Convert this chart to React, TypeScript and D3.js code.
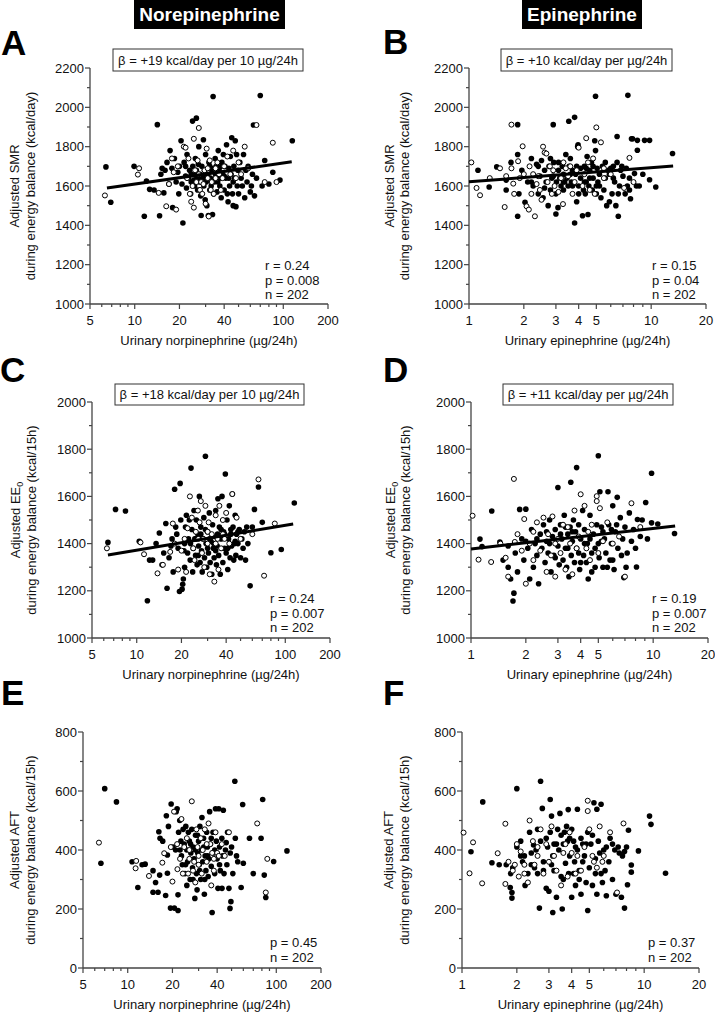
import React from 'react';
import * as d3 from 'd3';

// ---------- tick labels ----------
const neTickLabels = [5, 10, 20, 40, 100, 200];
const epiTickLabels = [1, 2, 3, 4, 5, 10, 20];
const smrTicks = [1000, 1200, 1400, 1600, 1800, 2000, 2200];
const eeTicks = [1000, 1200, 1400, 1600, 1800, 2000];
const aftTicks = [0, 200, 400, 600, 800];

// ---------- Panel A: norepinephrine vs SMR ----------
const aFilled: [number, number][] = [
  [6.4,1697],[6.9,1517],[9.9,1700],[11.6,1446],[12,1625],[12.6,1583],[13.5,1580],[14.2,1912],[14.7,1449],[15,1660],[15.3,1690],[15.7,1565],[16,1680],[16.5,1720],[17,1610],[17.3,1780],[17.8,1690],[18,1490],[18.5,1740],[19,1620],[19.5,1670],[19.8,1560],[20,1700],[20.5,1830],[20.8,1610],[21.1,1412],[21.5,1720],[22,1650],[22.3,1590],[22.5,1760],[23,1640],[23.4,1680],[23.8,1560],[24,1620],[24.5,1930],[24.6,1700],[25,1660],[25.3,1600],[25.6,1740],[26,1945],[26.2,1640],[26.5,1580],[26.8,1710],[27,1800],[27.2,1620],[27.5,1660],[27.8,1550],[28,1450],[28.3,1700],[28.6,1640],[29,1835],[29.2,1600],[29.5,1680],[29.8,1530],[30,1760],[30.3,1620],[30.6,1500],[31,1660],[31.3,1450],[31.6,1720],[32,1580],[32.3,1640],[32.7,1600],[33,1680],[33.4,1455],[33.7,2055],[34,1560],[34.4,1620],[34.8,1740],[35,1660],[35.4,1700],[35.8,1570],[36.2,1620],[36.5,1780],[37,1680],[37.4,1600],[37.8,1640],[38.2,1540],[38.6,1720],[39,1660],[39.5,1760],[40,1580],[40.5,1700],[41,1640],[41.5,1810],[42,1560],[42.5,1520],[43,1690],[43.5,1600],[44,1750],[44.5,1660],[45,1845],[45.5,1560],[46,1500],[46.5,1700],[47,1640],[47.5,1830],[48,1495],[48.5,1760],[49,1600],[49.5,1680],[50,1560],[51,1720],[52,1640],[53,1600],[54,1760],[55,1540],[56,1680],[57,1620],[58,1700],[60,1570],[61,1600],[62,1660],[63,1910],[64,1550],[66,1640],[70,2060],[72,1600],[75,1730],[80,1610],[85,1670],[95,1630],[115,1830],
  [22,1700],[24,1660],[26,1680],[28,1640],[30,1660],[32,1700],[34,1690],[36,1660],[38,1700],[40,1650],[43,1640],[46,1620],[29,1620],[25,1630]
];
const aOpen: [number, number][] = [
  [6.3,1552],[10.7,1690],[10.5,1658],[14.5,1565],[16.3,1497],[17,1610],[17.8,1740],[18.3,1670],[19,1480],[19.5,1700],[21.4,1800],[22,1795],[22.5,1640],[23,1740],[23.5,1560],[24,1520],[24.5,1600],[25,1490],[25,1840],[25.5,1680],[26,1620],[26.5,1730],[27,1895],[27.5,1580],[28,1620],[28.5,1560],[29,1610],[29.5,1680],[30,1510],[30.5,1790],[31,1640],[31.5,1445],[32,1730],[32.5,1580],[33,1620],[34,1560],[35,1690],[36,1720],[37,1660],[38,1580],[39,1640],[40,1700],[42,1750],[44,1660],[46,1780],[48,1640],[50,1720],[52,1660],[55,1800],[58,1690],[66,1910],[75,1620],[85,1820],[90,1620],
  [27,1660],[31,1690],[35,1640]
];
const aLine: [number, number][] = [[6.5,1590],[114,1723]];

// ---------- Panel B: epinephrine vs SMR ----------
const bFilled: [number, number][] = [
  [1.12,1680],[1.29,1595],[1.42,1697],[1.6,1630],[1.7,1720],[1.85,1912],[1.85,1760],[1.88,1560],[1.85,1446],[1.95,1680],[2.03,1517],[2.1,1620],[2.2,1740],[2.25,1600],[2.35,1710],[2.4,1560],[2.45,1650],[2.5,1730],[2.55,1540],[2.6,1680],[2.65,1620],[2.72,1500],[2.75,1700],[2.8,1580],[2.85,1640],[2.9,1912],[2.92,1720],[3.0,1458],[3.02,1620],[3.08,1490],[3.1,1680],[3.15,1640],[3.2,1600],[3.25,1700],[3.3,1660],[3.35,1620],[3.4,1760],[3.45,1640],[3.5,1600],[3.53,1929],[3.55,1700],[3.6,1740],[3.65,1620],[3.7,1680],[3.75,1610],[3.8,1949],[3.8,1412],[3.85,1660],[3.9,1520],[3.95,1800],[3.97,1810],[4.0,1600],[4.1,1640],[4.2,1449],[4.25,1580],[4.3,1700],[4.35,1560],[4.4,1620],[4.45,1750],[4.5,1455],[4.55,1600],[4.6,1680],[4.7,1720],[4.75,1580],[4.8,1640],[4.9,1830],[4.95,2056],[4.95,1780],[5.0,1560],[5.05,1690],[5.1,1620],[5.2,1660],[5.3,1540],[5.4,1700],[5.5,1580],[5.6,1640],[5.7,1500],[5.8,1680],[5.9,1520],[6.0,1690],[6.1,1560],[6.2,1700],[6.3,1620],[6.4,1500],[6.5,1852],[6.5,1720],[6.6,1446],[6.7,1600],[6.8,1680],[7.0,1650],[7.2,1560],[7.4,1600],[7.45,2061],[7.6,1580],[7.7,1535],[7.8,1840],[7.9,1840],[8.1,1663],[8.3,1600],[8.4,1832],[8.4,1782],[9.2,1832],[9.8,1832],[9.8,1632],[10.6,1595],[13.1,1765],
  [2.4,1700],[2.6,1590],[2.9,1650],[3.1,1720],[3.3,1580],[3.6,1660],[3.9,1700],[4.1,1690],[4.3,1620],[4.6,1640],[4.8,1700],[5.2,1600],[5.6,1720],[6.2,1640],[6.9,1700],[7.3,1690],[7.6,1640],[2.2,1620],[1.6,1580],[3.0,1560],[4.0,1560],[5.0,1600],[5.9,1660],[6.6,1560],[8.6,1600],[9.0,1660],[4.4,1690],[3.7,1600],[2.8,1740],[3.3,1620]
];
const bOpen: [number, number][] = [
  [1.03,1720],[1.1,1590],[1.15,1553],[1.48,1690],[1.57,1493],[1.71,1912],[1.71,1690],[1.75,1612],[1.77,1560],[1.86,1726],[1.97,1802],[2.0,1660],[2.07,1497],[2.13,1480],[2.15,1700],[2.25,1660],[2.3,1446],[2.35,1610],[2.45,1580],[2.5,1530],[2.55,1800],[2.6,1770],[2.66,1765],[2.7,1620],[2.78,1700],[2.85,1560],[2.95,1600],[3.1,1570],[3.2,1640],[3.28,1508],[3.4,1690],[3.5,1650],[3.6,1700],[3.7,1560],[3.9,1680],[4.0,1795],[4.2,1600],[4.4,1843],[4.5,1720],[4.6,1580],[4.8,1740],[4.9,1560],[5.0,1898],[5.3,1822],[5.5,1640],[6.0,1660],[7.1,1590],[7.6,1743],[8.0,1620],
  [1.9,1640],[2.2,1560],[2.4,1650],[2.9,1680],[3.3,1720],[3.8,1620],[4.3,1660],[5.5,1690],[1.3,1640],[1.6,1650]
];
const bLine: [number, number][] = [[1.0,1621],[13.2,1702]];

// ---------- Panel C: norepinephrine vs EE0 ----------
const cFilled: [number, number][] = [
  [6.4,1405],[7.2,1545],[8.4,1538],[10.4,1410],[11.8,1158],[12.2,1330],[12.8,1330],[13.5,1400],[14.2,1445],[14.8,1310],[15.2,1360],[15.7,1485],[16,1211],[16.5,1340],[17,1390],[17.3,1420],[17.6,1280],[18,1630],[18.3,1470],[18.6,1440],[19,1380],[19.4,1197],[19.6,1655],[19.8,1500],[20.2,1207],[20.4,1228],[20.6,1250],[20.8,1370],[21,1300],[21.3,1470],[21.6,1520],[22,1360],[22.3,1420],[22.6,1500],[22.9,1330],[23.2,1720],[23.5,1460],[23.8,1280],[24,1380],[24.3,1540],[24.6,1420],[24.9,1350],[25.2,1500],[25.5,1310],[25.8,1440],[26.1,1390],[26.4,1600],[26.7,1320],[27,1470],[27.3,1370],[27.6,1280],[28,1420],[28.3,1510],[28.6,1340],[29,1770],[29.3,1400],[29.6,1300],[30,1450],[30.4,1360],[30.8,1530],[31.2,1320],[31.6,1410],[32,1270],[32.4,1480],[32.8,1380],[33.2,1340],[33.6,1430],[34,1540],[34.4,1310],[34.8,1390],[35.2,1590],[35.6,1350],[36,1470],[36.5,1270],[37,1420],[37.5,1600],[38,1320],[38.5,1450],[39,1380],[39.5,1695],[40,1360],[40.5,1500],[41,1290],[41.5,1420],[42,1560],[42.5,1340],[43,1440],[43.5,1390],[44,1610],[44.5,1470],[45,1330],[45.5,1400],[46,1520],[46.5,1350],[47,1440],[48,1400],[49,1460],[50,1340],[51,1420],[52,1380],[53,1450],[54,1330],[55,1470],[56,1400],[58,1221],[60,1470],[62,1545],[66,1640],[70,1490],[80,1361],[94,1375],[115,1572],
  [23,1400],[25,1420],[27,1440],[29,1460],[31,1420],[33,1400],[35,1440],[37,1460],[39,1440],[43,1460],[46,1410],[26,1350],[30,1380],[34,1370],[41,1380],[48,1450],[21,1400]
];
const cOpen: [number, number][] = [
  [6.3,1380],[10.6,1405],[11.2,1355],[13.8,1274],[15,1310],[16.8,1365],[17.5,1485],[18,1400],[19,1290],[20,1370],[21,1420],[21.5,1280],[22,1465],[22.8,1600],[23.5,1510],[24,1380],[24.5,1330],[25,1450],[25.8,1540],[26.5,1490],[27,1580],[27.5,1360],[28,1420],[28.5,1300],[29,1560],[30,1400],[30.5,1490],[31,1270],[32,1440],[33.3,1239],[34,1520],[35,1420],[35.5,1290],[36,1560],[37,1380],[38,1500],[39,1420],[40,1530],[42,1400],[44,1610],[47,1510],[50,1420],[72,1264],[66,1672],[85,1485],[60,1440],
  [26,1420],[30,1450],[34,1400],[38,1440]
];
const cLine: [number, number][] = [[6.4,1352],[113,1483]];

// ---------- Panel D: epinephrine vs EE0 ----------
const dFilled: [number, number][] = [
  [1.12,1419],[1.15,1387],[1.3,1538],[1.44,1407],[1.5,1330],[1.6,1300],[1.65,1250],[1.7,1157],[1.72,1190],[1.75,1360],[1.8,1280],[1.85,1545],[1.9,1420],[1.95,1330],[2.0,1546],[2.05,1380],[2.1,1250],[2.15,1460],[2.2,1300],[2.25,1400],[2.3,1350],[2.35,1230],[2.4,1440],[2.45,1380],[2.5,1480],[2.55,1320],[2.6,1410],[2.65,1360],[2.7,1500],[2.75,1280],[2.8,1430],[2.85,1350],[2.9,1460],[3.0,1638],[3.0,1390],[3.05,1310],[3.1,1480],[3.15,1420],[3.2,1330],[3.25,1520],[3.3,1380],[3.35,1300],[3.4,1440],[3.45,1260],[3.5,1470],[3.53,1660],[3.55,1350],[3.6,1410],[3.65,1500],[3.7,1320],[3.75,1450],[3.8,1722],[3.8,1380],[3.9,1480],[3.95,1290],[4.0,1420],[4.1,1540],[4.15,1350],[4.2,1460],[4.3,1320],[4.35,1400],[4.4,1250],[4.5,1520],[4.6,1360],[4.7,1440],[4.8,1300],[4.9,1480],[5.0,1772],[5.0,1400],[5.05,1340],[5.1,1620],[5.2,1470],[5.3,1300],[5.4,1420],[5.5,1360],[5.65,1620],[5.7,1480],[5.8,1330],[5.9,1400],[6.0,1560],[6.1,1290],[6.2,1450],[6.35,1596],[6.4,1380],[6.6,1510],[6.8,1420],[6.9,1256],[7.0,1470],[7.2,1360],[7.4,1530],[7.6,1410],[8.1,1301],[8.2,1502],[8.5,1430],[9.1,1574],[9.8,1698],[9.8,1488],[10.6,1483],[13.1,1443],
  [2.3,1420],[2.7,1400],[3.1,1440],[3.3,1470],[3.6,1450],[3.9,1360],[4.2,1400],[4.5,1420],[4.8,1380],[5.2,1410],[5.6,1300],[6.0,1330],[6.3,1480],[6.7,1350],[7.1,1300],[7.8,1460],[8.0,1380],[8.7,1500],[9.3,1420],[2.0,1410],[1.6,1390],[2.9,1340],[4.0,1320],[4.6,1280],[5.3,1450],[3.4,1380],[2.6,1450],[5.9,1460]
];
const dOpen: [number, number][] = [
  [1.02,1518],[1.1,1332],[1.29,1322],[1.45,1400],[1.55,1340],[1.6,1260],[1.72,1674],[1.74,1407],[1.8,1440],[1.9,1370],[1.96,1504],[2.0,1230],[2.1,1400],[2.2,1330],[2.3,1490],[2.4,1370],[2.5,1510],[2.6,1280],[2.65,1440],[2.75,1350],[2.8,1515],[2.9,1260],[3.0,1420],[3.1,1360],[3.2,1480],[3.3,1290],[3.5,1400],[3.6,1270],[3.7,1540],[3.9,1430],[4.0,1609],[4.2,1560],[4.3,1380],[4.5,1330],[4.6,1480],[4.9,1601],[4.9,1580],[5.1,1550],[5.3,1410],[5.6,1490],[6.0,1400],[7.0,1260],[7.6,1571],
  [2.2,1450],[2.9,1400],[3.4,1470],[3.8,1380],[4.4,1450],[5.0,1360],[6.5,1430],[8.5,1470]
];
const dLine: [number, number][] = [[1.0,1377],[13.2,1475]];

// ---------- Panel E: norepinephrine vs AFT ----------
const eFilled: [number, number][] = [
  [7.0,608],[8.4,563],[6.6,355],[10.7,360],[11.7,273],[12.5,350],[13.1,352],[14.8,330],[15.4,290],[14.8,257],[16.0,257],[16.4,315],[16.5,440],[16.2,462],[17.2,430],[18.0,246],[18.5,383],[18.5,321],[18.2,516],[18.8,480],[19.4,203],[19.6,556],[20.6,203],[20.2,410],[21.0,400],[21.8,195],[21.8,248],[21.2,530],[21.5,540],[22,460],[22.4,500],[22.8,430],[23,380],[23.3,350],[23.6,470],[24,420],[24.3,320],[24.6,480],[25,400],[25.3,360],[25.6,460],[26,430],[26.3,300],[26.6,390],[27,470],[27.3,340],[27.6,410],[28,370],[28.3,236],[28.6,450],[29,320],[29.3,265],[29.6,390],[30,430],[30.3,350],[30.6,480],[31,300],[31.3,400],[31.6,510],[32,360],[32.4,440],[32.8,250],[33.2,380],[33.6,330],[34,460],[34.4,410],[34.8,310],[35.2,370],[35.6,530],[36,420],[36.5,345],[37,188],[37.5,460],[38,390],[38.5,320],[39,540],[39.5,430],[40,370],[40.5,270],[41,540],[41.5,410],[42,330],[43.1,270],[43,440],[43.5,380],[44,535],[44.5,320],[48.8,202],[49.5,225],[46,425],[46.5,350],[47,460],[48,270],[49,390],[50,410],[51,320],[52.6,633],[53,440],[54,380],[55,360],[58,273],[59.4,554],[60,355],[66,440],[70,320],[79,440],[81,571],[83,315],[85,239],[96,361],[118,397],
  [22.5,400],[24.5,350],[26.5,420],[28.5,400],[30.5,330],[32.5,410],[34.5,380],[36.5,440],[38.5,400],[41.5,350],[45.5,400],[29.5,450],[27.5,300],[25,280],[33,300]
];
const eOpen: [number, number][] = [
  [6.4,425],[11.4,363],[11.3,338],[13.9,312],[17.1,357],[17.6,389],[20,293],[21.6,335],[19.5,410],[20.5,530],[21.5,420],[22.5,370],[23,505],[23.5,320],[24,410],[25,440],[25.5,320],[26,370],[27,565],[27.5,330],[28,360],[28.5,290],[29,470],[29.5,410],[30,350],[31,440],[31.5,320],[32,400],[33,470],[34,360],[35,490],[36,420],[36.5,280],[37,390],[38,330],[39,460],[40,390],[41,380],[43,420],[45,380],[48,460],[74.4,490],[87,370],[85,256],
  [26,400],[30,380],[34,420],[38,370]
];

// ---------- Panel F: epinephrine vs AFT ----------
const fFilled: [number, number][] = [
  [1.12,394],[1.30,563],[1.46,357],[1.6,350],[1.75,350],[1.84,273],[1.88,256],[1.88,237],[1.85,320],[2.0,608],[2.0,410],[2.1,380],[2.15,360],[2.22,280],[2.3,320],[2.35,460],[2.4,390],[2.47,417],[2.5,340],[2.55,400],[2.6,320],[2.66,203],[2.7,633],[2.7,430],[2.76,541],[2.8,360],[2.9,270],[2.95,410],[3.0,260],[3.05,571],[3.05,460],[3.1,515],[3.15,188],[3.15,380],[3.2,330],[3.3,240],[3.35,470],[3.4,400],[3.45,524],[3.5,310],[3.55,200],[3.6,420],[3.65,460],[3.7,355],[3.75,480],[3.83,537],[3.85,320],[3.9,380],[4.0,240],[4.0,470],[4.1,430],[4.15,360],[4.2,280],[4.3,538],[4.3,400],[4.4,330],[4.5,250],[4.6,420],[4.7,380],[4.8,290],[4.9,195],[4.9,460],[5.0,340],[5.1,420],[5.2,280],[5.3,560],[5.4,370],[5.5,538],[5.5,250],[5.6,430],[5.8,555],[5.8,320],[6.0,400],[6.2,245],[6.4,360],[6.5,440],[6.7,300],[6.9,400],[7.0,250],[7.2,410],[7.5,240],[7.8,203],[7.6,380],[8.1,282],[8.2,467],[8.5,349],[8.5,325],[9.3,397],[10.7,515],[10.9,487],[13.1,321],
  [2.1,430],[2.6,470],[2.9,440],[3.2,420],[3.5,450],[3.8,430],[4.2,410],[4.5,440],[4.8,420],[5.2,450],[5.7,390],[6.2,410],[6.7,420],[7.3,390],[2.4,350],[2.8,330],[3.1,350],[3.6,300],[4.1,320],[4.6,360],[5.4,320],[6.1,330],[1.9,340],[2.2,380],[3.3,420],[3.9,440],[4.4,300],[5.9,290],[8.0,410],[7.8,395]
];
const fOpen: [number, number][] = [
  [1.02,459],[1.1,321],[1.15,426],[1.29,287],[1.57,389],[1.73,489],[1.73,285],[1.8,360],[1.9,330],[2.0,420],[2.05,310],[2.1,395],[2.2,320],[2.3,290],[2.35,500],[2.45,430],[2.5,350],[2.6,410],[2.7,470],[2.8,320],[3.0,360],[3.1,480],[3.3,330],[3.5,280],[3.6,390],[3.8,310],[3.9,460],[4.0,390],[4.2,320],[4.5,330],[4.9,567],[4.9,532],[5.0,470],[5.3,360],[5.5,340],[5.7,480],[6.0,380],[7.1,256],[7.7,490],[6.5,460],
  [2.2,350],[2.6,380],[3.2,380],[3.7,420],[4.3,380],[4.7,410],[5.2,380],[5.9,360],[2.9,420],[1.95,350]
];

// ---------- texts ----------
const betaA = 'β = +19 kcal/day per 10 µg/24h';
const betaB = 'β = +10 kcal/day per µg/24h';
const betaC = 'β = +18 kcal/day per 10 µg/24h';
const betaD = 'β = +11 kcal/day per µg/24h';
const statsA = ['r = 0.24', 'p = 0.008', 'n = 202'];
const statsB = ['r = 0.15', 'p = 0.04', 'n = 202'];
const statsC = ['r = 0.24', 'p = 0.007', 'n = 202'];
const statsD = ['r = 0.19', 'p = 0.007', 'n = 202'];
const statsE = ['p = 0.45', 'n = 202'];
const statsF = ['p = 0.37', 'n = 202'];
const neTitle = 'Urinary norpinephrine (µg/24h)';
const epiTitle = 'Urinary epinephrine (µg/24h)';
const yLine2Day = 'during energy balance (kcal/day)';
const yLine2H = 'during energy balance (kcal/15h)';

const FONT = "Arial, 'Liberation Sans', Helvetica, sans-serif";
const AXIS = '#444';

type Cfg = {
  letter: string; lx: number; ly: number;
  left: number; right: number; top: number; bottom: number;
  xDomain: [number, number]; yDomain: [number, number];
  xLabels: number[]; yTicks: number[];
  filled: [number, number][]; open: [number, number][];
  line?: [number, number][];
  beta?: string; betaBox?: [number, number, number, number];
  stats: string[]; statsX: number; statsY: number;
  yT1: React.ReactNode; yT2: string; yT1x: number; yT2x: number;
  xTitle: string;
};

function Panel({ c }: { c: Cfg }) {
  const x = d3.scaleLog().domain(c.xDomain).range([c.left, c.right]);
  const y = d3.scaleLinear().domain(c.yDomain).range([c.bottom, c.top]);
  const xAll = x.ticks();
  const yAll = d3.range(c.yDomain[0], c.yDomain[1] + 1, 100);
  const line = d3.line<[number, number]>().x(d => x(d[0])).y(d => y(d[1]));
  const yMid = (c.top + c.bottom) / 2;
  const xMid = (c.left + c.right) / 2;
  return (
    <g fontFamily={FONT}>
      <text x={c.lx} y={c.ly} fontSize={35} fontWeight="bold" fill="#000">{c.letter}</text>
      <line x1={c.left} x2={c.left} y1={c.top} y2={c.bottom} stroke={AXIS} strokeWidth={1.3} />
      {yAll.map(v => {
        const major = c.yTicks.includes(v);
        return <line key={'yt' + v} x1={c.left - (major ? 5 : 3)} x2={c.left} y1={y(v)} y2={y(v)} stroke={AXIS} strokeWidth={1.2} />;
      })}
      {c.yTicks.map(v => (
        <text key={'yl' + v} x={c.left - 6} y={y(v)} dy="0.35em" textAnchor="end" fontSize={13} fill="#111">{v}</text>
      ))}
      <line x1={c.left} x2={c.right} y1={c.bottom} y2={c.bottom} stroke={AXIS} strokeWidth={1.3} />
      {xAll.map(v => {
        const major = c.xLabels.includes(v);
        return <line key={'xt' + v} x1={x(v)} x2={x(v)} y1={c.bottom} y2={c.bottom + (major ? 5 : 3)} stroke={AXIS} strokeWidth={1.2} />;
      })}
      {c.xLabels.map(v => (
        <text key={'xl' + v} x={x(v)} y={c.bottom + 21} textAnchor="middle" fontSize={13} fill="#111">{v}</text>
      ))}
      <text x={xMid} y={c.bottom + 41} textAnchor="middle" fontSize={13} fill="#111">{c.xTitle}</text>
      <text transform={`translate(${c.yT1x},${yMid}) rotate(-90)`} textAnchor="middle" dy="0.35em" fontSize={13} fill="#111">{c.yT1}</text>
      <text transform={`translate(${c.yT2x},${yMid}) rotate(-90)`} textAnchor="middle" dy="0.35em" fontSize={13} fill="#111">{c.yT2}</text>
      {c.filled.map((d, i) => (
        <circle key={'f' + i} cx={x(d[0])} cy={y(d[1])} r={2.8} fill="#000" />
      ))}
      {c.open.map((d, i) => (
        <circle key={'o' + i} cx={x(d[0])} cy={y(d[1])} r={2.5} fill="#fff" stroke="#000" strokeWidth={1} />
      ))}
      {c.line && <path d={line(c.line) || ''} stroke="#000" strokeWidth={3} fill="none" />}
      {c.beta && c.betaBox && (
        <g>
          <rect x={c.betaBox[0]} y={c.betaBox[1]} width={c.betaBox[2]} height={c.betaBox[3]} fill="#fff" stroke="#333" strokeWidth={1} />
          <text x={c.betaBox[0] + c.betaBox[2] / 2} y={c.betaBox[1] + c.betaBox[3] / 2} dy="0.36em" textAnchor="middle" fontSize={13} fill="#111">{c.beta}</text>
        </g>
      )}
      {c.stats.map((s, i) => (
        <text key={'s' + i} x={c.statsX} y={c.statsY + i * 14.5} fontSize={13} fill="#111">{s}</text>
      ))}
    </g>
  );
}

const ee0 = (<>Adjusted EE<tspan fontSize={9} dy={3}>0</tspan></>);

const panels: Cfg[] = [
  { letter: 'A', lx: 1, ly: 55, left: 90, right: 328, top: 68, bottom: 304, xDomain: [5, 200], yDomain: [1000, 2200],
    xLabels: neTickLabels, yTicks: smrTicks, filled: aFilled, open: aOpen, line: aLine, beta: betaA, betaBox: [113, 49, 190, 22],
    stats: statsA, statsX: 265, statsY: 270, yT1: 'Adjusted SMR', yT2: yLine2Day, yT1x: 14, yT2x: 30, xTitle: neTitle },
  { letter: 'B', lx: 383, ly: 54, left: 469, right: 706, top: 68, bottom: 304, xDomain: [1, 20], yDomain: [1000, 2200],
    xLabels: epiTickLabels, yTicks: smrTicks, filled: bFilled, open: bOpen, line: bLine, beta: betaB, betaBox: [501, 49, 171, 22],
    stats: statsB, statsX: 652, statsY: 270, yT1: 'Adjusted SMR', yT2: yLine2Day, yT1x: 389, yT2x: 404, xTitle: epiTitle },
  { letter: 'C', lx: 0, ly: 382, left: 92, right: 330, top: 402, bottom: 638, xDomain: [5, 200], yDomain: [1000, 2000],
    xLabels: neTickLabels, yTicks: eeTicks, filled: cFilled, open: cOpen, line: cLine, beta: betaC, betaBox: [115, 384, 189, 21],
    stats: statsC, statsX: 270, statsY: 603, yT1: ee0, yT2: yLine2H, yT1x: 15, yT2x: 31, xTitle: neTitle },
  { letter: 'D', lx: 383, ly: 382, left: 471, right: 708, top: 402, bottom: 638, xDomain: [1, 20], yDomain: [1000, 2000],
    xLabels: epiTickLabels, yTicks: eeTicks, filled: dFilled, open: dOpen, line: dLine, beta: betaD, betaBox: [503, 384, 170, 21],
    stats: statsD, statsX: 652, statsY: 603, yT1: ee0, yT2: yLine2H, yT1x: 390, yT2x: 405, xTitle: epiTitle },
  { letter: 'E', lx: 1, ly: 705, left: 83, right: 321, top: 732, bottom: 968, xDomain: [5, 200], yDomain: [0, 800],
    xLabels: neTickLabels, yTicks: aftTicks, filled: eFilled, open: eOpen,
    stats: statsE, statsX: 270, statsY: 947, yT1: 'Adjusted AFT', yT2: yLine2H, yT1x: 14, yT2x: 30, xTitle: neTitle },
  { letter: 'F', lx: 383, ly: 705, left: 462, right: 699, top: 732, bottom: 968, xDomain: [1, 20], yDomain: [0, 800],
    xLabels: epiTickLabels, yTicks: aftTicks, filled: fFilled, open: fOpen,
    stats: statsF, statsX: 648, statsY: 947, yT1: 'Adjusted AFT', yT2: yLine2H, yT1x: 388, yT2x: 404, xTitle: epiTitle },
];

export default function App() {
  return (
    <svg width={715} height={1015} style={{ position: 'absolute', left: 0, top: 0, background: '#fff' }}>
      <rect x={0} y={0} width={715} height={1015} fill="#fff" />
      <rect x={134} y={0} width={151} height={29} fill="#000" />
      <text x={209.5} y={21} textAnchor="middle" fontFamily={FONT} fontWeight="bold" fontSize={19} fill="#fff">Norepinephrine</text>
      <rect x={522} y={0} width={120} height={29} fill="#000" />
      <text x={582} y={21} textAnchor="middle" fontFamily={FONT} fontWeight="bold" fontSize={19} fill="#fff">Epinephrine</text>
      {panels.map(p => <Panel key={p.letter} c={p} />)}
    </svg>
  );
}
